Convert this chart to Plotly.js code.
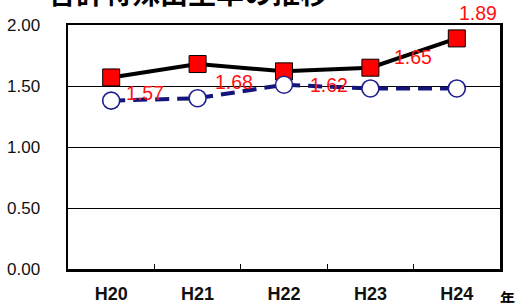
<!DOCTYPE html>
<html>
<head>
<meta charset="utf-8">
<script src="https://cdn.plot.ly/plotly-3.0.1.min.js"></script>
<style>html,body{margin:0;padding:0;background:#fff;}#chart{width:518px;height:303px;}</style>
</head>
<body>
<div id="chart"></div>
<script>
const years = ["H20", "H21", "H22", "H23", "H24"];
const seriesA = [1.57, 1.68, 1.62, 1.65, 1.89];   // red squares, solid black line
const seriesB = [1.38, 1.40, 1.51, 1.48, 1.48];   // open circles, dashed navy line
const labelsA = ["1.57", "1.68", "1.62", "1.65", "1.89"];
const yTicks = [0, 0.5, 1.0, 1.5, 2.0];
const yTickText = ["0.00", "0.50", "1.00", "1.50", "2.00"];
const titleText = "合計特殊出生率の推移";
const unitText = "年";

const labelShift = [[34, -16], [36, -18], [45, -14], [43, 11], [21, 25]];

const traces = [
  {
    x: years, y: seriesA, type: "scatter", mode: "lines+markers",
    line: {color: "#000", width: 4},
    marker: {symbol: "square", size: 17, color: "#ff0000", line: {color: "#000", width: 1}},
    hoverinfo: "skip", cliponaxis: false
  },
  {
    x: years, y: seriesB, type: "scatter", mode: "lines+markers",
    line: {color: "#14147a", width: 4, dash: "14px,8px"},
    marker: {symbol: "circle", size: 17, color: "#fff", line: {color: "#1f1f8f", width: 1.6}},
    hoverinfo: "skip", cliponaxis: false
  }
];

const annotations = years.map((c, i) => ({
  x: c, y: seriesA[i], xref: "x", yref: "y", text: labelsA[i], showarrow: false,
  xshift: labelShift[i][0], yshift: labelShift[i][1],
  font: {family: "Liberation Sans, Arial, sans-serif", size: 19.5, color: "#ff1010"}
}));
annotations.push({
  xref: "paper", yref: "paper", x: 1.0, y: 0, xanchor: "left", yanchor: "top",
  xshift: -2, yshift: -16, text: unitText, showarrow: false,
  font: {family: "Noto Sans CJK JP, sans-serif", size: 15, color: "#000", weight: "bold"}
});
annotations.push({
  xref: "paper", yref: "paper", x: -0.05, y: 1, xanchor: "left", yanchor: "bottom",
  yshift: 11, text: "<b>" + titleText + "</b>", showarrow: false,
  font: {family: "Noto Sans CJK JP, sans-serif", size: 28, color: "#000"}
});

const layout = {
  width: 518, height: 303,
  margin: {l: 68, r: 18, t: 25, b: 34},
  paper_bgcolor: "#fff", plot_bgcolor: "#fff",
  showlegend: false,
  xaxis: {
    type: "category", range: [-0.5, 4.5],
    showgrid: false, zeroline: false,
    showline: true, linecolor: "#000", linewidth: 2.5, mirror: true,
    ticks: "inside", tickson: "boundaries", ticklen: 5, tickcolor: "#000", tickwidth: 1,
    tickfont: {family: "Liberation Sans, Arial, sans-serif", size: 18, color: "#111", weight: "bold"},
    ticklabelstandoff: 7
  },
  yaxis: {
    range: [0, 2], tickvals: yTicks, ticktext: yTickText,
    showgrid: true, gridcolor: "#000", gridwidth: 1, zeroline: false,
    showline: true, linecolor: "#000", linewidth: 2.5, mirror: true,
    ticks: "", tickfont: {family: "Liberation Sans, Arial, sans-serif", size: 17, color: "#111"},
    ticklabelstandoff: 22
  },
  annotations: annotations
};

Plotly.newPlot("chart", traces, layout, {displayModeBar: false, staticPlot: true});
</script>
</body>
</html>
